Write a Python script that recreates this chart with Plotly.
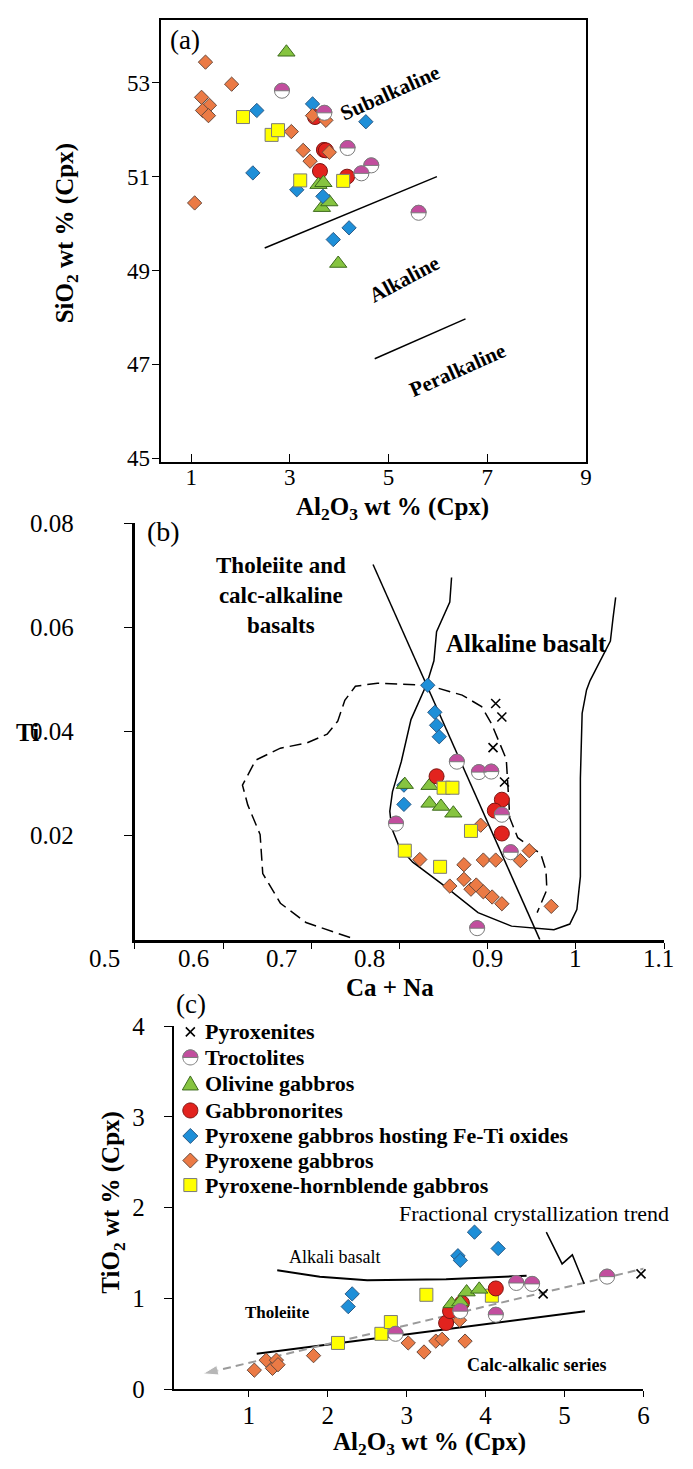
import numpy as np
import plotly.graph_objects as go

W, H = 693, 1469
SERIF = "Liberation Serif"

# ---------------- colours ----------------
C_ORANGE, L_ORANGE = "#EB7A45", "#6a4a3c"
C_BLUE, L_BLUE = "#1E8FD8", "#2a5a86"
C_GREEN, L_GREEN = "#86C440", "#3d6b1c"
C_RED, L_RED = "#E2231E", "#7d1512"
C_YELLOW, L_YELLOW = "#FFFF00", "#7a7a7a"
C_MAG, L_MAG = "#C24E9E", "#7a7a7a"

# ---------------- panel (a): SiO2 vs Al2O3 in Cpx ----------------
a_pyxgb_al = [1.29, 1.82, 1.21, 1.37, 1.23, 1.35, 1.07, 3.03, 3.27, 3.41, 3.46, 3.73, 3.80]
a_pyxgb_si = [53.44, 52.97, 52.69, 52.52, 52.41, 52.30, 50.44, 51.96, 51.56, 51.33, 52.30, 52.20, 51.52]
a_hbl_al = [2.05, 2.63, 2.76, 3.21, 4.08]
a_hbl_si = [52.27, 51.89, 51.99, 50.92, 50.91]
a_feti_al = [2.33, 3.46, 4.54, 2.25, 3.14, 3.67, 3.88, 4.20]
a_feti_si = [52.41, 52.55, 52.17, 51.08, 50.72, 50.58, 49.66, 49.91]
a_olgb_al = [2.93, 3.58, 3.68, 3.65, 3.80, 3.98]
a_olgb_si = [53.65, 50.83, 50.87, 50.34, 50.46, 49.15]
a_gbn_al = [3.51, 3.69, 3.73, 3.61, 4.16]
a_gbn_si = [52.27, 51.57, 51.56, 51.12, 51.00]
a_troc_al = [2.84, 3.70, 4.17, 4.45, 4.65, 5.61]
a_troc_si = [52.83, 52.36, 51.61, 51.07, 51.24, 50.23]

a_sub_al, a_sub_si = [2.49, 5.98], [49.48, 51.00]
a_per_al, a_per_si = [4.72, 6.56], [47.12, 47.97]

# ---------------- panel (b): Ti vs Ca + Na ----------------
b_feti_ca = [0.832, 0.840, 0.842, 0.845, 0.805, 0.805]
b_feti_ti = [0.0489, 0.0437, 0.0412, 0.0390, 0.0297, 0.0260]
b_olgb_ca = [0.806, 0.834, 0.834, 0.847, 0.861]
b_olgb_ti = [0.0298, 0.0296, 0.0262, 0.0256, 0.0243]
b_gbn_ca = [0.842, 0.916, 0.908, 0.916]
b_gbn_ti = [0.0314, 0.0269, 0.0248, 0.0204]
b_pyxgb_ca = [0.892, 0.823, 0.873, 0.895, 0.909, 0.937, 0.947, 0.857, 0.873,
              0.881, 0.887, 0.895, 0.905, 0.916, 0.972]
b_pyxgb_ti = [0.0220, 0.0154, 0.0144, 0.0153, 0.0153, 0.0152, 0.0171, 0.0103, 0.0116,
              0.0097, 0.0105, 0.0092, 0.0082, 0.0069, 0.0064]
b_hbl_ca = [0.850, 0.860, 0.881, 0.806, 0.846]
b_hbl_ti = [0.0292, 0.0292, 0.0209, 0.0171, 0.0140]
b_troc_ca = [0.865, 0.890, 0.904, 0.916, 0.796, 0.926, 0.888]
b_troc_ti = [0.0342, 0.0322, 0.0323, 0.0240, 0.0223, 0.0168, 0.0022]
b_pyx_ca = [0.909, 0.916, 0.906, 0.919]
b_pyx_ti = [0.0454, 0.0428, 0.0369, 0.0303]

b_div_ca, b_div_ti = [0.770, 0.959], [0.0721, 0.0]
b_field_ca = [0.859, 0.857, 0.842, 0.839, 0.831, 0.813, 0.802, 0.792, 0.789, 0.791, 0.800,
              0.815, 0.852, 0.889, 0.927, 0.975, 0.993, 1.001, 1.005, 1.005, 1.007, 1.012,
              1.016, 1.029, 1.039, 1.042, 1.045]
b_field_ti = [0.0696, 0.0649, 0.0592, 0.0536, 0.0492, 0.0423, 0.0342, 0.0284, 0.0247, 0.0215,
              0.0177, 0.0149, 0.0102, 0.0052, 0.0026, 0.0019, 0.0030, 0.0058, 0.0121, 0.0310,
              0.0435, 0.0480, 0.0498, 0.0542, 0.0574, 0.0618, 0.0658]
b_dash_ca = [0.744, 0.694, 0.665, 0.645, 0.642, 0.628, 0.622, 0.637, 0.665, 0.695, 0.718,
             0.730, 0.738, 0.750, 0.775, 0.832, 0.871, 0.893, 0.904, 0.921, 0.923, 0.925,
             0.934, 0.960, 0.966, 0.967, 0.956]
b_dash_ti = [0.0004, 0.0033, 0.0070, 0.0127, 0.0202, 0.0259, 0.0297, 0.0345, 0.0368, 0.0378,
             0.0395, 0.0420, 0.0460, 0.0487, 0.0493, 0.0489, 0.0470, 0.0448, 0.0416, 0.0347,
             0.0291, 0.0234, 0.0196, 0.0165, 0.0133, 0.0096, 0.0052]

b_tick_vals = [0.5, 0.6, 0.7, 0.8, 0.9, 1.0, 1.1]
b_tick_text = ["0.5", "0.6", "0.7", "0.8", "0.9", "1", "1.1"]

# ---------------- panel (c): TiO2 vs Al2O3 in Cpx ----------------
c_pyxgb_al = [1.07, 1.22, 1.30, 1.35, 1.37, 1.82, 3.02, 3.22, 3.37, 3.45, 3.74, 3.67]
c_pyxgb_ti = [0.21, 0.32, 0.23, 0.32, 0.27, 0.37, 0.51, 0.41, 0.53, 0.55, 0.53, 0.76]
c_hbl_al = [2.13, 2.68, 2.80, 3.25, 4.08]
c_hbl_ti = [0.51, 0.61, 0.74, 1.04, 1.03]
c_troc_al = [2.86, 3.68, 4.13, 4.39, 4.59, 5.54]
c_troc_ti = [0.61, 0.86, 0.82, 1.17, 1.16, 1.24]
c_pyx_al = [4.73, 5.97]
c_pyx_ti = [1.05, 1.27]
c_gbn_al = [3.50, 3.55, 3.70, 4.13]
c_gbn_ti = [0.73, 0.86, 0.95, 1.11]
c_olgb_al = [3.57, 3.68, 3.76, 3.92]
c_olgb_ti = [0.94, 0.96, 1.07, 1.10]
c_feti_al = [3.86, 4.16, 3.65, 3.68, 2.31, 2.26]
c_feti_ti = [1.73, 1.55, 1.47, 1.42, 1.05, 0.91]

c_alk_al, c_alk_ti = [1.36, 1.90, 2.50, 3.50, 4.52], [1.31, 1.24, 1.20, 1.21, 1.25]
c_calc_al, c_calc_ti = [1.10, 5.26], [0.39, 0.86]
c_trend_al, c_trend_ti = [6.06, 0.42], [1.34, 0.17]
c_zig_al, c_zig_ti = [4.77, 4.97, 5.10, 5.25], [1.73, 1.38, 1.48, 1.16]

# key entries, top to bottom
rock_types = ["Pyroxenites", "Troctolites", "Olivine gabbros", "Gabbronorites",
              "Pyroxene gabbros hosting Fe-Ti oxides", "Pyroxene gabbros",
              "Pyroxene-hornblende gabbros"]


# ---------------- layout geometry (pixels -> paper) ----------------
def px_x(p):
    return p / W


def px_y(p):
    return 1 - p / H


fig = go.Figure()

STYLE = {
    "Pyroxenites": dict(symbol="x-thin", size=9, color="black", line=dict(color="black", width=1.6)),
    "Troctolites": dict(symbol="circle", size=15, color="white", line=dict(color=L_MAG, width=1)),
    "Olivine gabbros": dict(symbol="triangle-up", size=15, color=C_GREEN, line=dict(color=L_GREEN, width=1)),
    "Gabbronorites": dict(symbol="circle", size=15, color=C_RED, line=dict(color=L_RED, width=1)),
    "Pyroxene gabbros hosting Fe-Ti oxides": dict(symbol="diamond", size=11, color=C_BLUE, line=dict(color=L_BLUE, width=1)),
    "Pyroxene gabbros": dict(symbol="diamond", size=11, color=C_ORANGE, line=dict(color=L_ORANGE, width=1)),
    "Pyroxene-hornblende gabbros": dict(symbol="square", size=13, color=C_YELLOW, line=dict(color=L_YELLOW, width=1)),
}


def pts(x, y, name, xa, ya):
    fig.add_trace(go.Scatter(
        x=x, y=y, mode="markers", name=name, marker=STYLE[name],
        xaxis=xa, yaxis=ya, showlegend=False, cliponaxis=False))


def line(x, y, xa, ya, width=1.5, dash="solid", color="black"):
    fig.add_trace(go.Scatter(
        x=x, y=y, mode="lines", line=dict(color=color, width=width, dash=dash),
        xaxis=xa, yaxis=ya, showlegend=False, hoverinfo="skip"))


# pixel-space outlines used for the troctolite half fill and the key symbols
def poly(points):
    return "M" + " L".join(f"{px:.2f},{py:.2f}" for px, py in points) + " Z"


R_HALF = 7.5
_t = np.linspace(0, np.pi, 25)
HALF_PATH = poly([(R_HALF * np.cos(a), R_HALF * np.sin(a)) for a in _t])
_tc = np.linspace(0, 2 * np.pi, 40)
CIRCLE_PATH = poly([(R_HALF * np.cos(a), R_HALF * np.sin(a)) for a in _tc])
KEY_PATH = {
    "Olivine gabbros": poly([(0, 8), (8, -6), (-8, -6)]),
    "Gabbronorites": CIRCLE_PATH,
    "Pyroxene gabbros hosting Fe-Ti oxides": poly([(0, 7.5), (7.5, 0), (0, -7.5), (-7.5, 0)]),
    "Pyroxene gabbros": poly([(0, 7.5), (7.5, 0), (0, -7.5), (-7.5, 0)]),
    "Pyroxene-hornblende gabbros": poly([(-6.5, -6.5), (6.5, -6.5), (6.5, 6.5), (-6.5, 6.5)]),
}
shapes = []


def pix_shape(path, x, y, xref, yref, fill, edge, width=1):
    shapes.append(dict(type="path", xref=xref, yref=yref, xsizemode="pixel", ysizemode="pixel",
                       xanchor=x, yanchor=y, path=path, fillcolor=fill,
                       line=dict(color=edge, width=width), layer="above"))


def half_tops(x, y, xref, yref):
    for xv, yv in zip(x, y):
        pix_shape(HALF_PATH, xv, yv, xref, yref, C_MAG, L_MAG)


# ---- panel (a)
line(a_sub_al, a_sub_si, "x", "y")
line(a_per_al, a_per_si, "x", "y")
pts(a_gbn_al, a_gbn_si, "Gabbronorites", "x", "y")
pts(a_olgb_al, a_olgb_si, "Olivine gabbros", "x", "y")
pts(a_feti_al, a_feti_si, "Pyroxene gabbros hosting Fe-Ti oxides", "x", "y")
pts(a_pyxgb_al, a_pyxgb_si, "Pyroxene gabbros", "x", "y")
pts(a_hbl_al, a_hbl_si, "Pyroxene-hornblende gabbros", "x", "y")
pts(a_troc_al, a_troc_si, "Troctolites", "x", "y")
half_tops(a_troc_al, a_troc_si, "x", "y")

# ---- panel (b)
line(b_div_ca, b_div_ti, "x2", "y2")
line(b_field_ca, b_field_ti, "x2", "y2")
line(b_dash_ca, b_dash_ti, "x2", "y2", dash="12px,6px")
pts(b_feti_ca, b_feti_ti, "Pyroxene gabbros hosting Fe-Ti oxides", "x2", "y2")
pts(b_olgb_ca, b_olgb_ti, "Olivine gabbros", "x2", "y2")
pts(b_gbn_ca, b_gbn_ti, "Gabbronorites", "x2", "y2")
pts(b_pyxgb_ca, b_pyxgb_ti, "Pyroxene gabbros", "x2", "y2")
pts(b_hbl_ca, b_hbl_ti, "Pyroxene-hornblende gabbros", "x2", "y2")
pts(b_troc_ca, b_troc_ti, "Troctolites", "x2", "y2")
pts(b_pyx_ca, b_pyx_ti, "Pyroxenites", "x2", "y2")
half_tops(b_troc_ca, b_troc_ti, "x2", "y2")

# ---- panel (c)
line(c_alk_al, c_alk_ti, "x3", "y3", width=2)
line(c_calc_al, c_calc_ti, "x3", "y3", width=2)
# fractionation trend: dashed grey line ending in an arrow head
fig.add_trace(go.Scatter(
    x=c_trend_al, y=c_trend_ti, mode="lines+markers", xaxis="x3", yaxis="y3",
    line=dict(color="#9a9a9a", width=2, dash="8px,5px"),
    marker=dict(symbol=["circle", "arrow"], size=[0, 16], color="#9a9a9a", angleref="previous"),
    showlegend=False, hoverinfo="skip", cliponaxis=False))
line(c_zig_al, c_zig_ti, "x3", "y3", width=1.5)
pts(c_pyxgb_al, c_pyxgb_ti, "Pyroxene gabbros", "x3", "y3")
pts(c_feti_al, c_feti_ti, "Pyroxene gabbros hosting Fe-Ti oxides", "x3", "y3")
pts(c_hbl_al, c_hbl_ti, "Pyroxene-hornblende gabbros", "x3", "y3")
pts(c_gbn_al, c_gbn_ti, "Gabbronorites", "x3", "y3")
pts(c_olgb_al, c_olgb_ti, "Olivine gabbros", "x3", "y3")
pts(c_troc_al, c_troc_ti, "Troctolites", "x3", "y3")
pts(c_pyx_al, c_pyx_ti, "Pyroxenites", "x3", "y3")
half_tops(c_troc_al, c_troc_ti, "x3", "y3")

annotations = []


def note(text, x, y, xref, yref, size, bold=True, angle=0, xshift=0, xanchor="center"):
    annotations.append(dict(
        text=f"<b>{text}</b>" if bold else text, x=x, y=y, xref=xref, yref=yref,
        showarrow=False, textangle=angle, xshift=xshift,
        font=dict(family=SERIF, size=size, color="black"), xanchor=xanchor, yanchor="middle"))


# ---- key (upper left of panel c)
KEY_SYM_X, KEY_TEXT_X = 192, 205
KEY_ROWS = [1038, 1064, 1091, 1118, 1144, 1169, 1194]
for name, ry in zip(rock_types, KEY_ROWS):
    kx, ky = px_x(KEY_SYM_X), px_y(ry)
    if name == "Pyroxenites":
        pix_shape("M-4.5,-4.5 L4.5,4.5 M-4.5,4.5 L4.5,-4.5", kx, ky, "paper", "paper",
                  "rgba(0,0,0,0)", "black", 1.6)
    elif name == "Troctolites":
        pix_shape(CIRCLE_PATH, kx, ky, "paper", "paper", "white", L_MAG)
        pix_shape(HALF_PATH, kx, ky, "paper", "paper", C_MAG, L_MAG)
    else:
        st = STYLE[name]
        pix_shape(KEY_PATH[name], kx, ky, "paper", "paper", st["color"], st["line"]["color"])
    note(name, px_x(KEY_TEXT_X), ky, "paper", "paper", 22, xanchor="left")

# panel labels and axis titles
note("(a)", px_x(187), px_y(28), "paper", "paper", 27, bold=False)
note("(b)", px_x(165), px_y(528), "paper", "paper", 28, bold=False)
note("(c)", px_x(193), px_y(1010), "paper", "paper", 27, bold=False)
note("SiO<sub>2</sub> wt % (Cpx)", px_x(67), px_y(224), "paper", "paper", 25, angle=-90)
note("Al<sub>2</sub>O<sub>3</sub> wt % (Cpx)", px_x(396), px_y(505), "paper", "paper", 25)
note("Ti", px_x(28), px_y(733), "paper", "paper", 25)
note("Ca + Na", px_x(393), px_y(993), "paper", "paper", 25)
note("TiO<sub>2</sub> wt % (Cpx)", px_x(114), px_y(1212), "paper", "paper", 25, angle=-90)
note("Al<sub>2</sub>O<sub>3</sub> wt % (Cpx)", px_x(433), px_y(1457), "paper", "paper", 25)

# Ca + Na tick labels: the lower four sit left of their ticks
for v, t in zip(b_tick_vals, b_tick_text):
    note(t, v, px_y(963), "x2", "paper", 25, bold=False,
         xshift=-30 if v < 0.85 else (-6 if v > 1.05 else 0))

# field names
note("Subalkaline", 5.02, 52.78, "x", "y", 21, angle=-24)
note("Alkaline", 5.32, 48.83, "x", "y", 21, angle=-28)
note("Peralkaline", 6.40, 46.89, "x", "y", 21, angle=-24)
note("Tholeiite and<br>calc-alkaline<br>basalts", 0.666, 0.0662, "x2", "y2", 23)
note("Alkaline basalt", 0.944, 0.0570, "x2", "y2", 25)
note("Fractional crystallization trend", 4.62, 1.94, "x3", "y3", 22, bold=False)
note("Alkali basalt", 2.09, 1.46, "x3", "y3", 18, bold=False)
note("Tholeiite", 1.36, 0.84, "x3", "y3", 17)
note("Calc-alkalic series", 4.64, 0.27, "x3", "y3", 18)

tickfont = dict(family=SERIF, size=23, color="black")
axis_common = dict(showgrid=False, zeroline=False, showline=True, linecolor="black",
                   tickcolor="black", tickfont=tickfont, fixedrange=True)

fig.update_layout(
    width=W, height=H, margin=dict(l=0, r=0, t=0, b=0),
    paper_bgcolor="white", plot_bgcolor="white",
    font=dict(family=SERIF, color="black"),
    showlegend=False,
    shapes=shapes, annotations=annotations,
    # panel (a)
    xaxis=dict(axis_common, domain=[px_x(162), px_x(591)], range=[0.38, 9], anchor="y",
               tickvals=[1, 3, 5, 7, 9], ticks="inside", ticklen=8, mirror=True, linewidth=2,
               ticklabelstandoff=-6),
    yaxis=dict(axis_common, domain=[px_y(457), px_y(7)], range=[44.93, 54.34], anchor="x",
               tickvals=[45, 47, 49, 51, 53], ticks="outside", ticklen=7, mirror=True, linewidth=2,
               ticklabelstandoff=-3),
    # panel (b)
    xaxis2=dict(axis_common, domain=[px_x(136), px_x(670)], range=[0.5, 1.1], anchor="y2",
                tickvals=b_tick_vals, ticks="outside", ticklen=6, showticklabels=False,
                linewidth=3),
    yaxis2=dict(axis_common, domain=[px_y(944), px_y(520)], range=[0, 0.08], anchor="x2",
                tickvals=[0.02, 0.04, 0.06, 0.08], ticktext=["0.02", "0.04", "0.06", "0.08"],
                ticks="outside", ticklen=8, linewidth=3, ticklabelstandoff=45,
                tickfont=dict(tickfont, size=25)),
    # panel (c)
    xaxis3=dict(axis_common, domain=[px_x(176), px_x(649)], range=[0.058, 6], anchor="y3",
                tickvals=[1, 2, 3, 4, 5, 6], ticks="outside", ticklen=6, linewidth=1.5,
                tickfont=dict(tickfont, size=25), ticklabelstandoff=-3),
    yaxis3=dict(axis_common, domain=[px_y(1402), px_y(1032)], range=[0, 4], anchor="x3",
                tickvals=[0, 1, 2, 3, 4], ticks="outside", ticklen=9, linewidth=1.5,
                tickfont=dict(tickfont, size=25), ticklabelstandoff=14),
)

fig.write_html("out.html")
